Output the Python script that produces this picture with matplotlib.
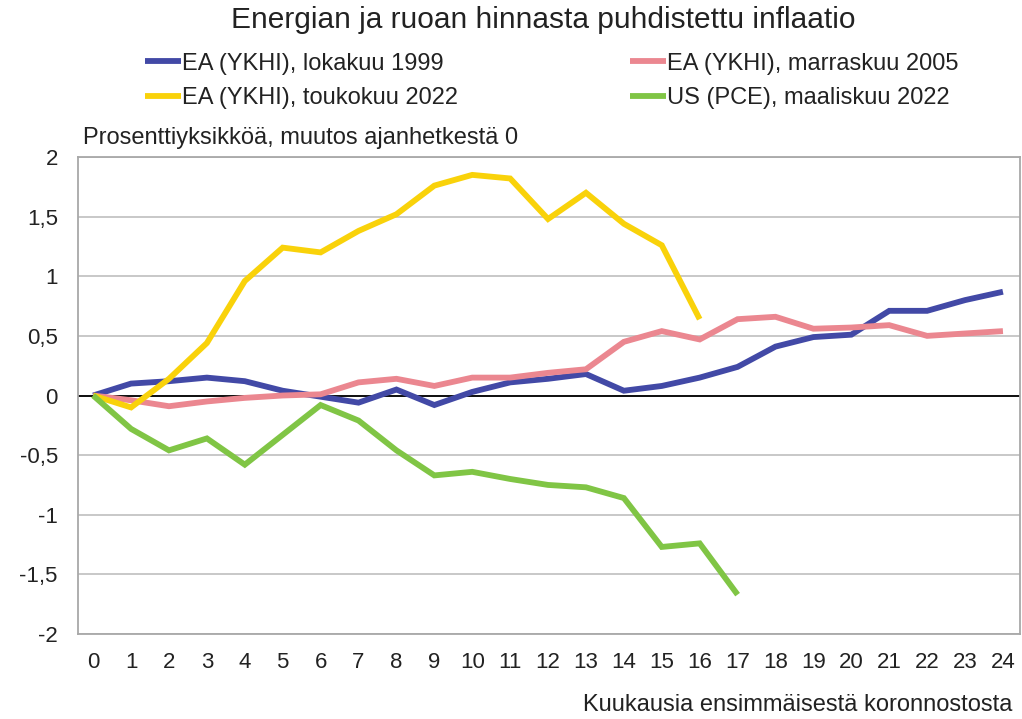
import matplotlib
matplotlib.use("Agg")
import matplotlib.pyplot as plt
import numpy as np

plt.rcParams['font.family'] = ['Liberation Sans', 'DejaVu Sans']

# Kuukausia ensimmäisestä koronnostosta
months = list(range(25))

# Prosenttiyksikköä, muutos ajanhetkestä 0
ea_1999 = [0, 0.10, 0.12, 0.15, 0.12, 0.04, -0.01, -0.06, 0.05, -0.08, 0.03, 0.11,
           0.14, 0.18, 0.04, 0.08, 0.15, 0.24, 0.41, 0.49, 0.51, 0.71, 0.71, 0.80, 0.87]
ea_2005 = [0, -0.04, -0.09, -0.05, -0.02, 0.00, 0.01, 0.11, 0.14, 0.08, 0.15, 0.15,
           0.19, 0.22, 0.45, 0.54, 0.47, 0.64, 0.66, 0.56, 0.57, 0.59, 0.50, 0.52, 0.54]
ea_2022 = [0, -0.10, 0.14, 0.44, 0.96, 1.24, 1.20, 1.38, 1.52, 1.76, 1.85, 1.82,
           1.48, 1.70, 1.44, 1.26, 0.64]
us_2022 = [0, -0.28, -0.46, -0.36, -0.58, -0.33, -0.08, -0.21, -0.46, -0.67, -0.64, -0.70,
           -0.75, -0.77, -0.86, -1.27, -1.24, -1.67]

labels = ["EA (YKHI), lokakuu 1999", "EA (YKHI), marraskuu 2005",
          "EA (YKHI), toukokuu 2022", "US (PCE), maaliskuu 2022"]
colors = ["#4249A6", "#EB8790", "#F9D20A", "#80C545"]

yticks = [2, 1.5, 1, 0.5, 0, -0.5, -1, -1.5, -2]
ytick_labels = ["2", "1,5", "1", "0,5", "0", "-0,5", "-1", "-1,5", "-2"]

fig = plt.figure(figsize=(10.22, 7.19), dpi=100)
ax = fig.add_axes([78 / 1022, 1 - 634 / 719, (1020 - 78) / 1022, (634 - 157) / 719])

ax.axhline(0, color="black", lw=1.3, zorder=2)
series = [ea_1999, ea_2005, ea_2022, us_2022]
for s, lab, c in zip(series, labels, colors):
    ax.plot(months[:len(s)], s, color=c, lw=4.2, label=lab, zorder=3,
            solid_capstyle="butt", solid_joinstyle="miter")

ax.set_xlim(-0.4, 24.45)
ax.set_ylim(-2, 2)
ax.set_xticks(months)
ax.set_xticklabels([str(m) for m in months])
ax.set_yticks(yticks)
ax.set_yticklabels(ytick_labels)
ax.tick_params(length=0, labelsize=16, colors="#222222", pad=13)
ax.tick_params(axis="y", pad=14.5)
ax.grid(axis="y", color="#c4c4c4", lw=1.3)
ax.set_axisbelow(True)
for sp in ax.spines.values():
    sp.set_color("#a8a8a8")
    sp.set_linewidth(1.3)

fig.text(0.532, 1 - 20 / 719, "Energian ja ruoan hinnasta puhdistettu inflaatio",
         ha="center", va="center", fontsize=21.5, color="#222222")
fig.text(83 / 1022, 1 - 138 / 719, "Prosenttiyksikköä, muutos ajanhetkestä 0",
         ha="left", va="center", fontsize=17, color="#222222")
fig.text(1012 / 1022, 1 - 705 / 719, "Kuukausia ensimmäisestä koronnostosta",
         ha="right", va="center", fontsize=17, color="#222222")

handles, labs = ax.get_legend_handles_labels()
order = [0, 2, 1, 3]
fig.legend([handles[i] for i in order], [labs[i] for i in order],
           loc="center", bbox_to_anchor=(0.540, 1 - 81 / 719), ncol=2,
           frameon=False, fontsize=17, handlelength=1.5, handletextpad=0.05,
           columnspacing=7.3, labelspacing=0.55, labelcolor="#222222")

fig.savefig("out.png", dpi=100)
